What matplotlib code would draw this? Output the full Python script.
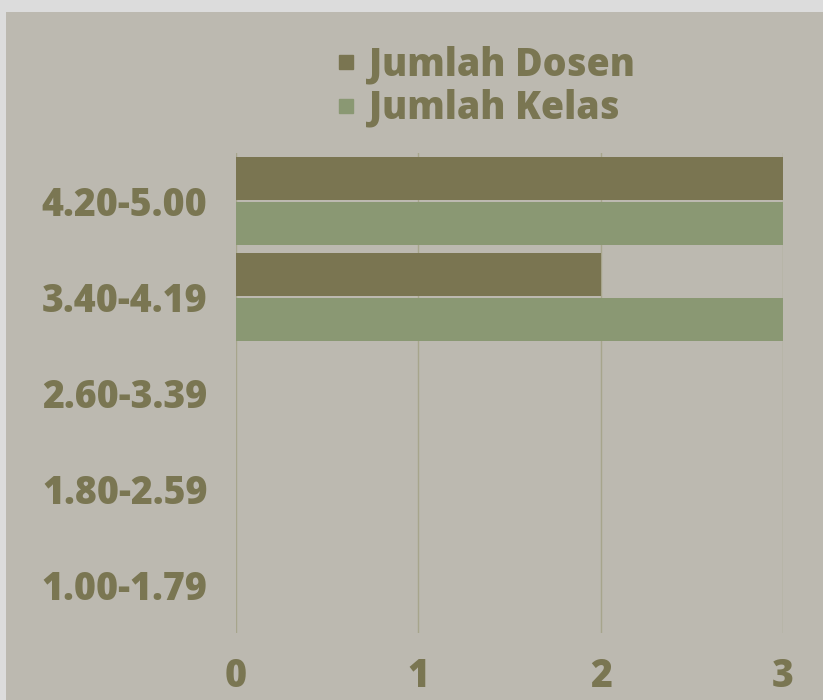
import matplotlib
matplotlib.use("Agg")
import matplotlib.pyplot as plt
from matplotlib.patches import Rectangle
from matplotlib.lines import Line2D

categories = ["1.00-1.79", "1.80-2.59", "2.60-3.39", "3.40-4.19", "4.20-5.00"]
jumlah_dosen = [0, 0, 0, 2, 3]
jumlah_kelas = [0, 0, 0, 3, 3]
series_names = ["Jumlah Dosen", "Jumlah Kelas"]
xticks = [0, 1, 2, 3]

c_dosen = "#7a7551"
c_kelas = "#8a9873"
c_text = "#7a7652"
c_bg = "#bcb9b0"

plt.rcParams['font.family'] = ['Open Sans', 'DejaVu Sans']

fig = plt.figure(figsize=(8.23, 7.0), dpi=100)
fig.patch.set_facecolor("#dcdcdc")
fig.add_artist(Rectangle((6/823, 0), 1, (700-12)/700, transform=fig.transFigure,
                         facecolor=c_bg, edgecolor="none", zorder=0))

ax = fig.add_axes([236/823, 67/700, 547/823, 480/700])
ax.set_facecolor("none")
ypos = list(range(len(categories)))
h = 0.44
off = 0.235
ax.barh([y + off for y in ypos], jumlah_dosen, height=h, color=c_dosen, zorder=3)
ax.barh([y - off for y in ypos], jumlah_kelas, height=h, color=c_kelas, zorder=3)
ax.set_ylim(-0.5, 4.5)
ax.set_xlim(0, 3)
ax.set_xticks(xticks)
ax.set_yticks(ypos)
ax.set_yticklabels(categories)
ax.grid(axis="x", color="#a7a58c", linewidth=1, zorder=1)
ax.grid(axis="y", visible=False)
for s in ax.spines.values():
    s.set_visible(False)
ax.tick_params(axis="both", length=0, labelsize=27, labelcolor=c_text)
ax.tick_params(axis="y", pad=20.5)
ax.tick_params(axis="x", pad=17)
for lbl in ax.get_xticklabels() + ax.get_yticklabels():
    lbl.set_fontweight("heavy")

handles = [Line2D([], [], marker="s", linestyle="none", markersize=10.5, color=c_dosen),
           Line2D([], [], marker="s", linestyle="none", markersize=10.5, color=c_kelas)]
leg = fig.legend(handles, series_names, loc="upper left", bbox_to_anchor=(320/823, 1 - 30/700),
                 frameon=False, fontsize=27, labelcolor=c_text, handlelength=0.6,
                 handletextpad=0.3, labelspacing=0.13, borderaxespad=0)
for t in leg.get_texts():
    t.set_fontweight("heavy")

fig.savefig("out.png", dpi=100, facecolor=fig.get_facecolor())
